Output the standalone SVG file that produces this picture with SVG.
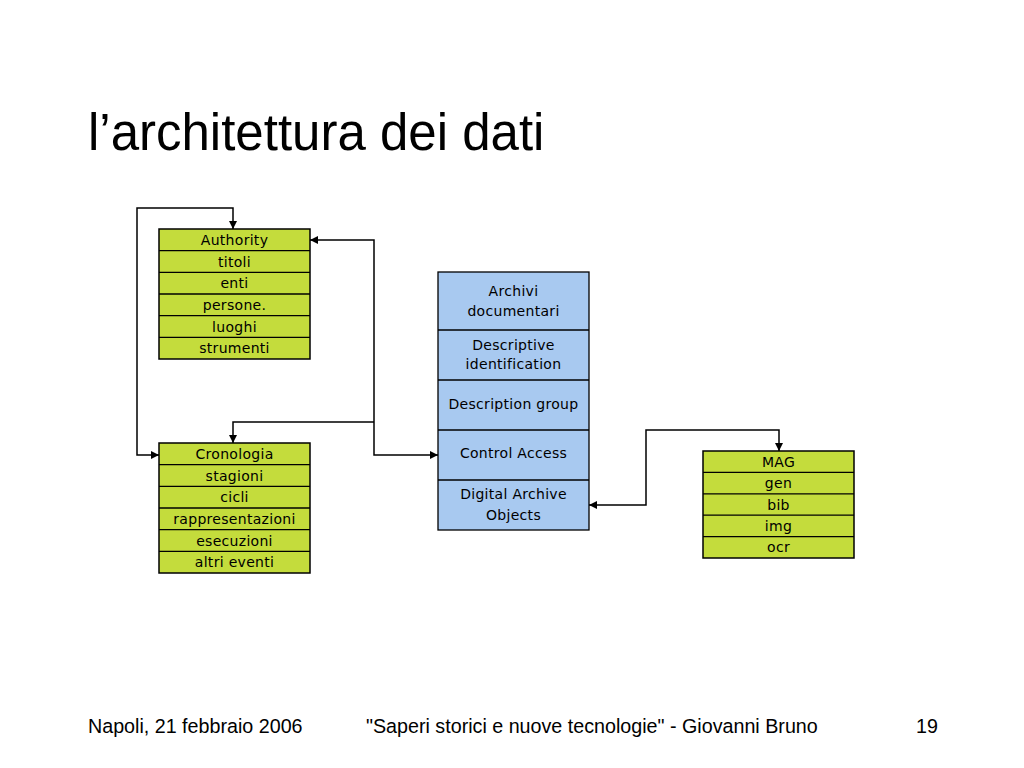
<svg xmlns="http://www.w3.org/2000/svg" width="1024" height="768" viewBox="0 0 1024 768">
<style>
.g{fill:#C4DC3C;stroke:#000;stroke-width:1.5}
.b{fill:#A8C9F0;stroke:#000;stroke-width:1.3}
.sep{stroke:#000;stroke-width:1.3}
.t{font-family:"DejaVu Sans",sans-serif;font-size:14px;fill:#000;text-anchor:middle;letter-spacing:0.3px}
.c{fill:none;stroke:#000;stroke-width:1.5}
.title{font-family:"Liberation Sans",Arial,sans-serif;font-size:51px;fill:#000}
.foot{font-family:"Liberation Sans",Arial,sans-serif;font-size:19.7px;fill:#000}
</style>
<defs>
<marker id="ah" markerUnits="userSpaceOnUse" markerWidth="9" markerHeight="9" refX="8" refY="4.5" orient="auto-start-reverse">
<path d="M0,0.5 L8,4.5 L0,8.5 z" fill="#000"/>
</marker>
</defs>
<rect width="1024" height="768" fill="#fff"/>
<text class="title" x="88" y="150">l’architettura dei dati</text>

<g id="connectors">
<path class="c" d="M233,229 L233,208 L137,208 L137,455 L159,455" marker-start="url(#ah)" marker-end="url(#ah)"/>
<path class="c" d="M310,240 L374,240 L374,455 L438,455" marker-start="url(#ah)" marker-end="url(#ah)"/>
<path class="c" d="M374,422 L233,422 L233,443" marker-end="url(#ah)"/>
<path class="c" d="M589,505 L646,505 L646,430 L779,430 L779,451" marker-start="url(#ah)" marker-end="url(#ah)"/>
</g>

<g id="authority">
<rect class="g" x="159" y="229" width="151" height="130"/>
<path class="sep" d="M159,250.7H310M159,272.3H310M159,294H310M159,315.7H310M159,337.3H310"/>
<text class="t" x="234.5" y="245">Authority</text>
<text class="t" x="234.5" y="266.5">titoli</text>
<text class="t" x="234.5" y="288.2">enti</text>
<text class="t" x="234.5" y="309.8">persone.</text>
<text class="t" x="234.5" y="331.5">luoghi</text>
<text class="t" x="234.5" y="353.2">strumenti</text>
</g>

<g id="cronologia">
<rect class="g" x="159" y="443" width="151" height="130"/>
<path class="sep" d="M159,464.7H310M159,486.3H310M159,508H310M159,529.7H310M159,551.3H310"/>
<text class="t" x="234.5" y="459">Cronologia</text>
<text class="t" x="234.5" y="480.5">stagioni</text>
<text class="t" x="234.5" y="502.2">cicli</text>
<text class="t" x="234.5" y="523.8">rappresentazioni</text>
<text class="t" x="234.5" y="545.5">esecuzioni</text>
<text class="t" x="234.5" y="567.2">altri eventi</text>
</g>

<g id="archivi">
<rect class="b" x="438" y="272" width="151" height="258"/>
<path class="sep" d="M438,330H589M438,380H589M438,430H589M438,480H589"/>
<text class="t" x="513.5" y="296">Archivi</text>
<text class="t" x="513.5" y="316">documentari</text>
<text class="t" x="513.5" y="350">Descriptive</text>
<text class="t" x="513.5" y="369">identification</text>
<text class="t" x="513.5" y="409">Description group</text>
<text class="t" x="513.5" y="458">Control Access</text>
<text class="t" x="513.5" y="499">Digital Archive</text>
<text class="t" x="513.5" y="520">Objects</text>
</g>

<g id="mag">
<rect class="g" x="703" y="451" width="151" height="107"/>
<path class="sep" d="M703,472.4H854M703,493.8H854M703,515.2H854M703,536.6H854"/>
<text class="t" x="778.5" y="466.7">MAG</text>
<text class="t" x="778.5" y="488.1">gen</text>
<text class="t" x="778.5" y="509.5">bib</text>
<text class="t" x="778.5" y="530.9">img</text>
<text class="t" x="778.5" y="552.3">ocr</text>
</g>

<text class="foot" x="88" y="733">Napoli, 21 febbraio 2006</text>
<text class="foot" x="366" y="733">"Saperi storici e nuove tecnologie" - Giovanni Bruno</text>
<text class="foot" x="916" y="733">19</text>
</svg>
